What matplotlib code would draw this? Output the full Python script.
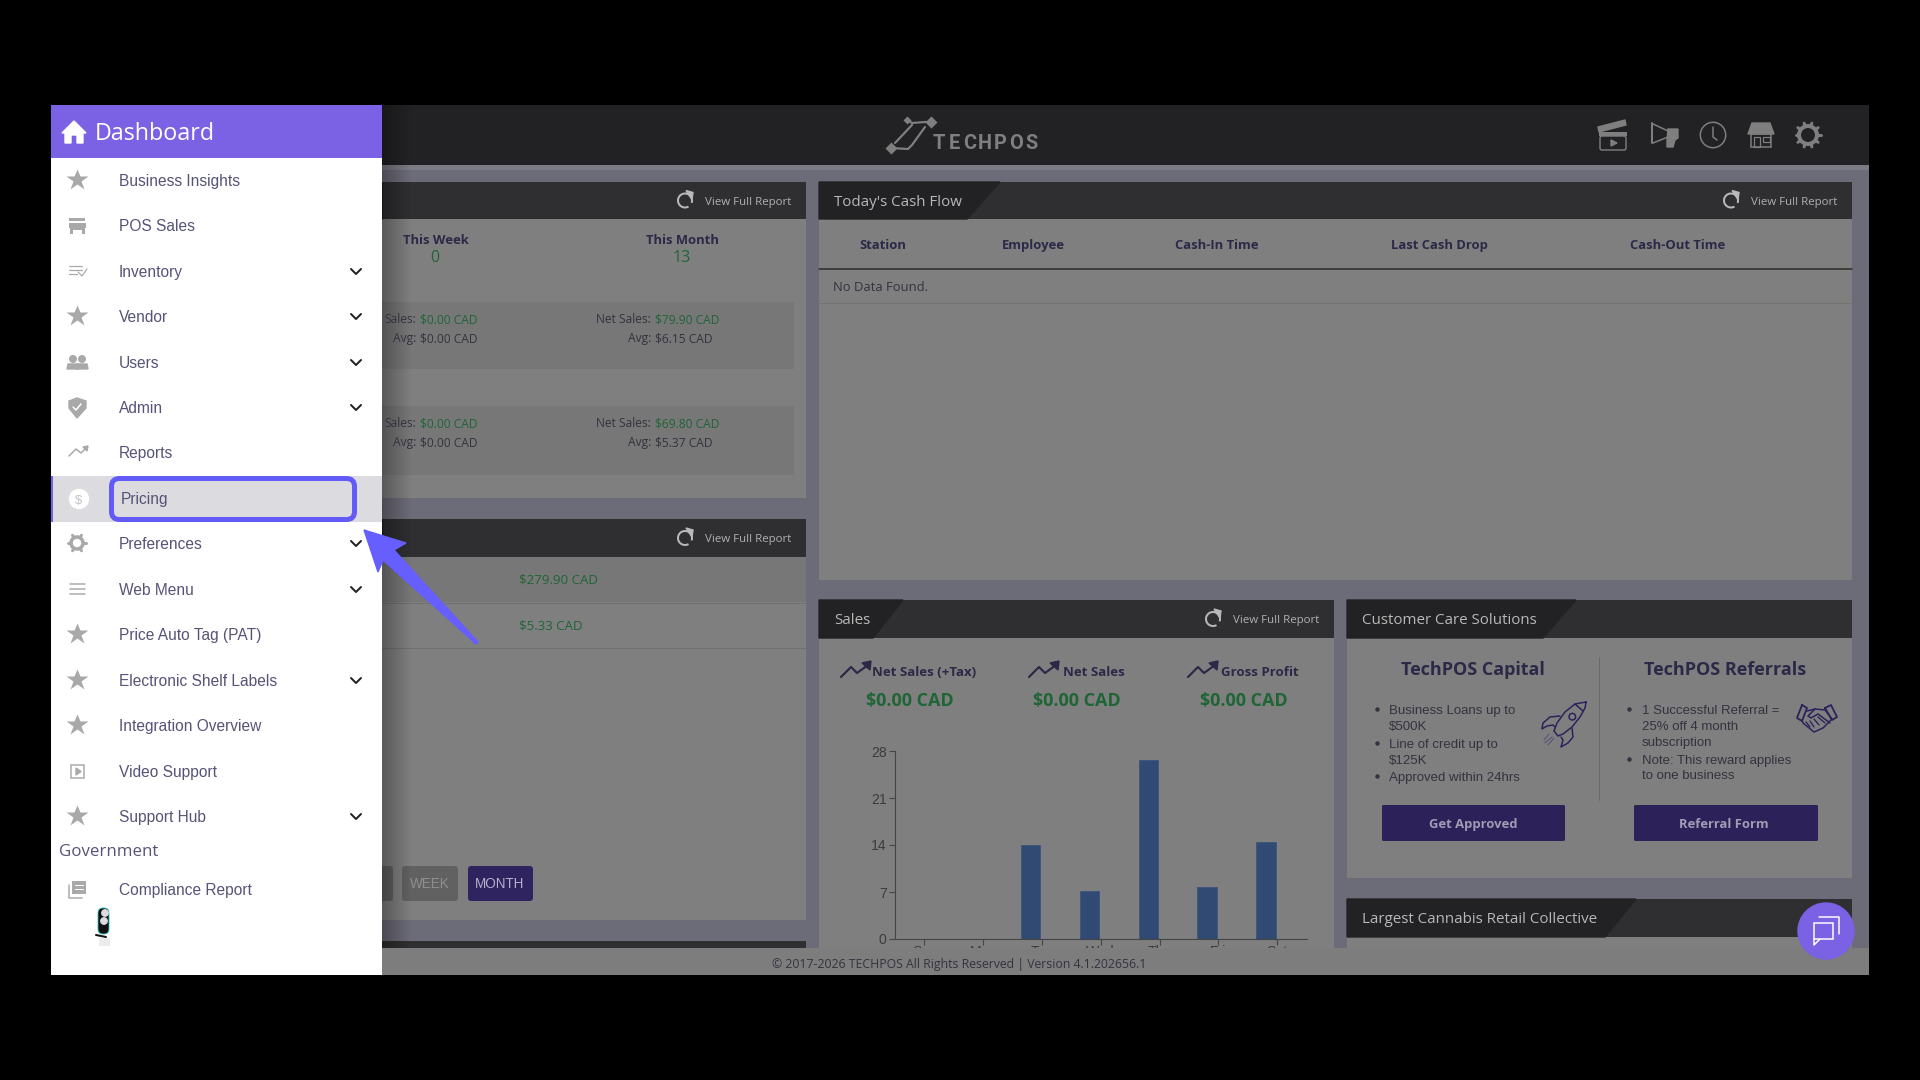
import numpy as np
import matplotlib
matplotlib.use("Agg")
import matplotlib.pyplot as plt
from matplotlib.patches import Rectangle, Polygon, Circle, Arc, FancyBboxPatch

# datos de la grafica de ventas
dias = ["Sun", "Mon", "Tue", "Wed", "Thu", "Fri", "Sat"]
ventas = [0, 0, 14.0, 7.1, 26.6, 7.7, 14.4]
ticks_y = [0, 7, 14, 21, 28]

# menu lateral
menu = ["Business Insights", "POS Sales", "Inventory", "Vendor", "Users", "Admin", "Reports",
        "Pricing", "Preferences", "Web Menu", "Price Auto Tag (PAT)", "Electronic Shelf Labels",
        "Integration Overview", "Video Support", "Support Hub"]
con_flecha = ["Inventory", "Vendor", "Users", "Admin", "Preferences", "Web Menu",
              "Electronic Shelf Labels", "Support Hub"]
con_estrella = ["Business Insights", "Vendor", "Price Auto Tag (PAT)", "Electronic Shelf Labels",
                "Integration Overview", "Support Hub"]

columnas_tabla = ["Station", "Employee", "Cash-In Time", "Last Cash Drop", "Cash-Out Time"]
metricas = ["Net Sales (+Tax)", "Net Sales", "Gross Profit"]
valores_metricas = ["$0.00 CAD", "$0.00 CAD", "$0.00 CAD"]
capital = ["Business Loans up to", "$500K", "Line of credit up to", "$125K", "Approved within 24hrs"]
referidos = ["1 Successful Referral =", "25% off 4 month", "subscription",
             "Note: This reward applies", "to one business"]

W, H = 1920, 1080
OSCURO = "#2f2f31"
TAB = "#222224"
PANEL = "#7f7f7f"
BANDA = "#777777"
FONDO = "#6c6b78"
TEXTO = "#2b2947"
GRIS_TXT = "#333340"
VERDE = "#1f6536"
LILA = "#7b61e3"
AZUL = "#635bf8"
MENU_TXT = "#565377"
ICONO = "#a9a9a9"
MORADO = "#2c2159"

fig = plt.figure(figsize=(19.2, 10.8), dpi=100, facecolor="black")


def capa(z):
    a = fig.add_axes([0, 0, 1, 1], zorder=z)
    a.set_xlim(0, W)
    a.set_ylim(H, 0)
    a.axis("off")
    return a


ax = capa(1)
top = capa(3)


def px(v):
    return v * 0.72


def rect(a, x0, y0, x1, y1, c, z=2, **kw):
    a.add_patch(Rectangle((x0, y0), x1 - x0, y1 - y0, facecolor=c, edgecolor="none", zorder=z, **kw))


def redondo(a, x0, y0, x1, y1, c, r=3, z=3):
    a.add_patch(FancyBboxPatch((x0, y0), x1 - x0, y1 - y0, boxstyle=f"round,pad=0,rounding_size={r}",
                               fc=c, ec="none", zorder=z))


def txt(a, x, y, s, size, c=TEXTO, fam="Open Sans", w="normal", ha="left", z=6):
    # y es el centro de las mayusculas, se pasa a linea base
    a.text(x, y + 0.36 * size, s, fontsize=px(size), color=c, family=fam, weight=w, ha=ha, va="baseline", zorder=z)


def linea(a, xs, ys, c, lw=1.5, z=5):
    a.plot(xs, ys, color=c, lw=px(lw), zorder=z, solid_capstyle="round", solid_joinstyle="round")


def trazo(a, puntos, c, lw=1.5, z=5):
    linea(a, [p[0] for p in puntos], [p[1] for p in puntos], c, lw, z)


def recarga(a, x, y):
    a.add_patch(Arc((x, y), 14, 14, theta1=-300, theta2=20, color="#b9b9b9", lw=px(2), zorder=5))
    a.add_patch(Polygon([(x + 1, y - 10), (x + 8, y - 8), (x + 7, y - 1)], color="#b9b9b9", zorder=5))


def cabecera(a, x0, x1, y0, y1, titulo, tab_top, tab_bot, reporte=True):
    rect(a, x0, y0, x1, y1, OSCURO, 3)
    a.add_patch(Polygon([(x0, y0), (tab_top, y0), (tab_bot, y1), (x0, y1)], color=TAB, zorder=4))
    if titulo:
        txt(a, x0 + 15.5, (y0 + y1) / 2, titulo, 15.1, "#b8b8b8")
    if reporte:
        ym = (y0 + y1) / 2
        txt(a, x1 - 15, ym, "View Full Report", 11.5, "#b0b0b0", ha="right")
        recarga(a, x1 - 121, ym)


def tendencia(a, x, y):
    linea(a, [x, x + 10, x + 16, x + 27], [y + 6, y - 4, y + 2, y - 6], TEXTO, 2.2)
    a.add_patch(Polygon([(x + 21, y - 8), (x + 30, y - 10), (x + 29, y - 1)], color=TEXTO, zorder=5))


# fondo de la aplicacion
rect(ax, 51, 105, 1869, 975, FONDO, 1)
rect(ax, 382, 105, 1869, 165, "#222224", 2)
rect(ax, 382, 165, 1869, 170, "#7b7b85", 2)

# panel ventas del dia
rect(ax, 382, 182, 806, 498, PANEL)
cabecera(ax, 382, 806, 182, 219, "", 382, 382)
rect(ax, 382, 302, 794, 369, BANDA, 3)
rect(ax, 382, 406, 794, 475, BANDA, 3)
for xc, t, v in [(435, "This Week", "0"), (682, "This Month", "13")]:
    txt(ax, xc + 0.5, 239, t, 13, w="bold", ha="center")
    txt(ax, xc, 256, v, 16, VERDE, ha="center")
for y, a, b, c in [(319, "Sales:", "$0.00 CAD", "$79.90 CAD"), (423, "Sales:", "$0.00 CAD", "$69.80 CAD")]:
    txt(ax, 416, y, a, 12, GRIS_TXT, ha="right")
    txt(ax, 420, y, b, 12, VERDE)
    txt(ax, 651, y, "Net Sales:", 12, GRIS_TXT, ha="right")
    txt(ax, 655, y, c, 12, VERDE)
for y, b, c in [(338, "$0.00 CAD", "$6.15 CAD"), (442, "$0.00 CAD", "$5.37 CAD")]:
    txt(ax, 416, y, "Avg:", 12, GRIS_TXT, ha="right")
    txt(ax, 420, y, b, 12, GRIS_TXT)
    txt(ax, 651, y, "Avg:", 12, GRIS_TXT, ha="right")
    txt(ax, 655, y, c, 12, GRIS_TXT)

# panel inferior izquierdo
rect(ax, 382, 519, 806, 920, PANEL)
cabecera(ax, 382, 806, 519, 557, "", 382, 382)
rect(ax, 382, 557, 806, 602, BANDA, 3)
linea(ax, [382, 806], [602.5, 602.5], "#707070", 1)
linea(ax, [382, 806], [648, 648], "#707070", 1)
txt(ax, 519, 579, "$279.90 CAD", 13.3, VERDE)
txt(ax, 519, 625, "$5.33 CAD", 13.3, VERDE)
redondo(ax, 370, 866, 393, 901, "#616161")
redondo(ax, 402, 866, 458, 901, "#616161")
redondo(ax, 468, 866, 533, 901, "#2f2360")
txt(ax, 430, 883, "WEEK", 13.5, "#8f8f8f", "Liberation Sans", ha="center")
txt(ax, 500, 883, "MONTH", 13.5, "#b5b0cc", "Liberation Sans", ha="center")
rect(ax, 382, 941, 806, 950, OSCURO, 3)

# flujo de caja
rect(ax, 819, 182, 1852, 580, PANEL)
cabecera(ax, 819, 1852, 182, 219, "Today's Cash Flow", 1000, 967)
for xc, c in zip([883, 1033, 1217, 1439, 1678], columnas_tabla):
    txt(ax, xc, 244, c, 13, w="bold", ha="center")
linea(ax, [819, 1852], [269, 269], "#2a2a2a", 1.5)
txt(ax, 833, 286, "No Data Found.", 13, GRIS_TXT)
linea(ax, [819, 1852], [303, 303], "#727272", 1)

# panel de ventas
rect(ax, 819, 600, 1334, 950, PANEL)
cabecera(ax, 819, 1334, 600, 638, "Sales", 903, 873)
for x_i, x_t, xc, m, v in zip([841, 1029, 1188], [872, 1063, 1221], [910, 1077, 1244], metricas, valores_metricas):
    tendencia(ax, x_i, 671)
    txt(ax, x_t, 671, m, 13.2, w="bold")
    txt(ax, xc, 700, v, 18, VERDE, w="bold", ha="center")

# grafica de barras, ejes en pixeles de la figura
x0, x1, y0, y1 = 895, 1306.5, 751, 939
pos = np.arange(len(dias))
chart = fig.add_axes([x0 / W, 1 - y1 / H, (x1 - x0) / W, (y1 - y0) / H], zorder=2, facecolor="none")
# las barras van corridas a la izquierda de su marca, igual que en la captura
chart.bar(pos - 0.19, ventas, width=0.33, color="#304a74", edgecolor="#3a5580", linewidth=0.6)
chart.set_xlim(-0.5, 6.5)
chart.set_ylim(0, 28)
chart.set_yticks(ticks_y)
chart.set_xticks(pos)
chart.set_xticklabels(dias)
chart.tick_params(axis="both", color="#454545", labelcolor="#3c3c3c", length=4.5, width=0.8, labelsize=px(14))
chart.tick_params(axis="x", pad=0)
chart.tick_params(axis="y", pad=1.5)
for lbl in chart.get_xticklabels() + chart.get_yticklabels():
    lbl.set_family("Liberation Sans")
chart.spines["top"].set_visible(False)
chart.spines["right"].set_visible(False)
chart.spines["left"].set_color("#454545")
chart.spines["bottom"].set_color("#454545")

# atencion al cliente
rect(ax, 1347, 600, 1852, 878, PANEL)
cabecera(ax, 1347, 1852, 600, 638, "Customer Care Solutions", 1576, 1543, reporte=False)
txt(ax, 1473, 669, "TechPOS Capital", 18, w="bold", ha="center")
txt(ax, 1725, 669, "TechPOS Referrals", 18, w="bold", ha="center")
linea(ax, [1599, 1599], [657, 800], "#6a6a6a", 1)
for y, s in zip([709, 725, 743, 759, 776], capital):
    txt(ax, 1389, y, s, 13.2, GRIS_TXT, "Liberation Sans")
for y in [709, 743, 776]:
    ax.plot(1377, y, "o", ms=2.2, color=GRIS_TXT, zorder=5)
for y, s in zip([709, 725, 741, 759, 774], referidos):
    txt(ax, 1642, y, s, 13.2, GRIS_TXT, "Liberation Sans")
for y in [709, 759]:
    ax.plot(1629, y, "o", ms=2.2, color=GRIS_TXT, zorder=5)
for a0, a1, s, xc in [(1382, 1565, "Get Approved", 1473), (1634, 1818, "Referral Form", 1724)]:
    redondo(ax, a0, 805, a1, 841, MORADO, 1.5)
    txt(ax, xc, 823, s, 13, "#a09cb4", w="bold", ha="center")

# cohete
trazo(ax, [(1586, 702), (1575, 704), (1565, 712), (1557, 723), (1554, 731), (1558, 736), (1563, 734),
           (1572, 727), (1580, 717), (1585, 708), (1586, 702)], MORADO)
trazo(ax, [(1575, 704), (1583, 711)], MORADO)
ax.add_patch(Circle((1572.3, 716.7), 3.3, fill=False, ec=MORADO, lw=px(1.5), zorder=5))
trazo(ax, [(1560, 716), (1550, 717), (1543, 723), (1542, 729), (1547, 726), (1553, 725), (1555, 727)], MORADO)
trazo(ax, [(1572, 728), (1573, 737), (1568, 743), (1561, 747), (1563, 740), (1561, 737)], MORADO)
for a, b in [((1552, 737), (1545, 743)), ((1554, 738), (1548, 745)), ((1549, 734), (1544, 740))]:
    trazo(ax, [a, b], "#55507a", 1)
# apreton de manos
trazo(ax, [(1802, 705), (1807, 708), (1802, 721), (1797, 718), (1802, 705)], MORADO, 1.8)
trazo(ax, [(1825, 708), (1831, 705), (1837, 717), (1832, 720), (1825, 708)], MORADO, 1.8)
trazo(ax, [(1807, 711), (1815, 709), (1825, 710), (1832, 719), (1823, 728), (1814, 732), (1803, 723), (1802, 720)], MORADO)
trazo(ax, [(1815, 709), (1808, 716), (1811, 718), (1818, 714), (1830, 723)], MORADO)
for a, b in [((1806, 722), (1810, 727)), ((1810, 721), (1814, 727)), ((1814, 719), (1819, 725)), ((1818, 717), (1825, 723))]:
    trazo(ax, [a, b], MORADO, 1.3)

# coleccion de tiendas
rect(ax, 1347, 899, 1852, 950, PANEL)
cabecera(ax, 1347, 1852, 899, 937, "Largest Cannabis Retail Collective", 1636, 1605, reporte=False)

# barra superior, logo e iconos
GR = "#7f7f7f"
trazo(ax, [(907, 120), (912, 123), (925, 122), (931, 122)], GR, 2.2)
trazo(ax, [(912, 125), (895, 143)], GR, 2.2)
trazo(ax, [(925, 127), (912, 145), (908, 149), (891, 148)], GR, 2.2)
ax.plot([891, 931], [148, 122], "D", ms=6, color=GR, mec="none", zorder=5)
ax.plot([907], [120], "D", ms=4, color=GR, mec="none", zorder=5)
# letras del logo espaciadas a mano
for i, letra in enumerate("TECHPOS"):
    txt(ax, 939 + i * 15.4, 142, letra, 20, GR, "Roboto", w="bold", ha="center")
# claqueta
ax.add_patch(Polygon([(1598, 127), (1625, 120), (1626, 125), (1599, 132)], color=GR, zorder=5))
rect(ax, 1599, 132, 1627, 136, GR, 5)
ax.add_patch(FancyBboxPatch((1600, 136), 26, 14, boxstyle="round,pad=0,rounding_size=2", fc="none", ec=GR, lw=px(1.4), zorder=5))
ax.add_patch(Polygon([(1611, 140), (1611, 146), (1617, 143)], color=GR, zorder=6))
# megafono
trazo(ax, [(1652, 123), (1652, 143)], GR, 2)
trazo(ax, [(1653, 124), (1668, 131), (1668, 137), (1653, 143)], GR, 1.5)
ax.add_patch(Polygon([(1668, 129), (1678, 129), (1678, 138), (1675, 140), (1673, 147), (1667, 147), (1667, 140)], color=GR, zorder=5))
# reloj
ax.add_patch(Circle((1713, 135), 12.7, fill=False, ec=GR, lw=px(1.5), zorder=5))
trazo(ax, [(1713, 127), (1713, 137), (1717, 140)], GR, 1.5)
# tienda
ax.add_patch(Polygon([(1752, 123), (1770, 123), (1774, 134), (1748, 134)], color=GR, zorder=5))
ax.add_patch(Rectangle((1751, 134), 20, 13, fc="none", ec=GR, lw=px(1.5), zorder=5))
ax.add_patch(Rectangle((1754, 137), 6, 10, fc="none", ec=GR, lw=px(1.2), zorder=5))
ax.add_patch(Rectangle((1763, 137), 7, 5, fc="none", ec=GR, lw=px(1.2), zorder=5))
# engrane
ax.add_patch(Circle((1808, 135), 9, fill=False, ec=GR, lw=px(4), zorder=5))
for ang in np.deg2rad(np.arange(0, 360, 36)):
    linea(ax, [1808 + 9 * np.cos(ang), 1808 + 12.5 * np.cos(ang)], [135 + 9 * np.sin(ang), 135 + 12.5 * np.sin(ang)], GR, 3)

# sombra del menu sobre el contenido
sombra = np.zeros((1, 30, 4))
sombra[0, :, 3] = np.linspace(0.3, 0, 30)
ax.imshow(sombra, extent=(382, 412, 975, 105), aspect="auto", zorder=5.5)
ax.set_xlim(0, W)
ax.set_ylim(H, 0)

# pie de pagina encima de la grafica
rect(top, 382, 948, 1869, 975, "#7d7d7d", 1)
txt(top, 772, 964, "\u00a9 2017-2026 TECHPOS All Rights Reserved | Version 4.1.202656.1", 12.2, GRIS_TXT)

# menu lateral
rect(top, 51, 105, 382, 975, "white", 2)
rect(top, 51, 105, 382, 158, LILA, 3)
txt(top, 95, 132, "Dashboard", 23.3, "white")
top.add_patch(Polygon([(62, 133), (74, 121), (86, 133), (83, 133), (83, 143), (77, 143), (77, 135),
                       (71, 135), (71, 143), (65, 143), (65, 133)], color="white", zorder=4))

filas_y = [180, 225, 271, 316, 362, 407, 452, 498, 543, 589, 634, 680, 725, 771, 816]
rect(top, 51, 476, 382, 522, "#dcdce0", 3)
rect(top, 51, 476, 53, 522, LILA, 4)
for nombre, y in zip(menu, filas_y):
    xt = 121 if nombre == "Pricing" else 119
    txt(top, xt, y, nombre, 15.5, MENU_TXT, "Liberation Sans")
    if nombre in con_flecha:
        linea(top, [351, 356, 361], [y - 2, y + 3, y - 2], "#222222", 2)
    if nombre in con_estrella:
        top.plot(77, y, marker="*", ms=px(23), color=ICONO, mec="none", zorder=5)

# iconos del menu
rect(top, 69, 218, 85, 221, ICONO, 5)
rect(top, 69, 223, 86, 228, ICONO, 5)
rect(top, 70, 228, 85, 234, ICONO, 5)
rect(top, 73, 230, 82, 234, "white", 6)
for dy, ancho in [(-5, 13), (-1, 13), (3, 8)]:
    linea(top, [69, 69 + ancho], [271 + dy, 271 + dy], ICONO, 1.2)
linea(top, [78, 82, 87], [272, 276, 269], ICONO, 1.2)
for xc in [73, 82]:
    top.add_patch(Circle((xc, 359), 3.3, color=ICONO, zorder=5))
    top.add_patch(Polygon([(xc - 6, 369), (xc - 5, 364), (xc + 5, 364), (xc + 6, 369)], color=ICONO, zorder=5))
top.add_patch(Polygon([(77, 398), (86, 401), (86, 408), (77, 418), (69, 408), (69, 401)], color=ICONO, zorder=5))
linea(top, [73, 76, 81], [407, 410, 404], "white", 1.5, z=6)
linea(top, [69, 76, 81, 87], [456, 449, 453, 447], ICONO, 1.5)
top.add_patch(Polygon([(83, 447), (88, 446), (87, 451)], color=ICONO, zorder=5))
top.add_patch(Circle((79, 499), 9.5, color="white", zorder=5))
txt(top, 79, 499, "$", 13, "#c4c4c8", "Liberation Sans", ha="center")
top.add_patch(Circle((77, 543), 6, fill=False, ec=ICONO, lw=px(3.5), zorder=5))
for ang in np.deg2rad(np.arange(0, 360, 60)):
    linea(top, [77 + 6 * np.cos(ang), 77 + 9 * np.cos(ang)], [543 + 6 * np.sin(ang), 543 + 9 * np.sin(ang)], ICONO, 3)
for dy in [-5, 0, 5]:
    linea(top, [70, 85], [589 + dy, 589 + dy], ICONO, 1.5)
top.add_patch(Rectangle((71, 765), 13, 13, fc="none", ec=ICONO, lw=px(1.5), zorder=5))
top.add_patch(Polygon([(76, 768), (76, 775), (81, 771.5)], color=ICONO, zorder=5))
top.add_patch(Rectangle((72, 881), 14, 13, fc=ICONO, ec="none", zorder=5))
linea(top, [75, 83], [885, 885], "white", 1, z=6)
linea(top, [75, 83], [889, 889], "white", 1, z=6)
linea(top, [69, 69, 82], [885, 898, 898], ICONO, 1.5)

txt(top, 59, 850, "Government", 16.9, MENU_TXT)
txt(top, 119, 889, "Compliance Report", 15.5, MENU_TXT, "Liberation Sans")
# logo del pie del menu
top.add_patch(FancyBboxPatch((98, 908), 11, 26, boxstyle="round,pad=0,rounding_size=5", fc="#111111", ec="#2fbcc0", lw=0.6, zorder=5))
top.add_patch(Circle((105, 913), 3.2, color="#dddddd", zorder=6))
top.add_patch(Circle((104, 921), 3.2, color="#dddddd", zorder=6))
linea(top, [96, 106], [935, 937], "#111111", 2)
rect(top, 99, 938, 110, 946, "#ececec", 5)

# recuadro de Pricing y flecha
top.add_patch(FancyBboxPatch((111.5, 478.5), 243, 41, boxstyle="round,pad=0,rounding_size=8", fc="none", ec=AZUL, lw=px(5), zorder=7))
top.add_patch(Polygon([(364, 530), (406, 543), (394, 550), (478, 642), (476, 644), (383, 560), (378, 572)],
                      color="#665eff", zorder=8))

# boton de chat
top.add_patch(Circle((1826, 931), 28, color=LILA, zorder=8))
top.add_patch(Rectangle((1814, 923), 19, 16, fc="none", ec="white", lw=px(1.5), zorder=9))
linea(top, [1819, 1839, 1839], [917, 917, 934], "white", 1.5, z=9)
linea(top, [1814, 1814, 1820], [939, 945, 939], "white", 1.5, z=9)

fig.savefig("out.png", dpi=100, facecolor="black")
